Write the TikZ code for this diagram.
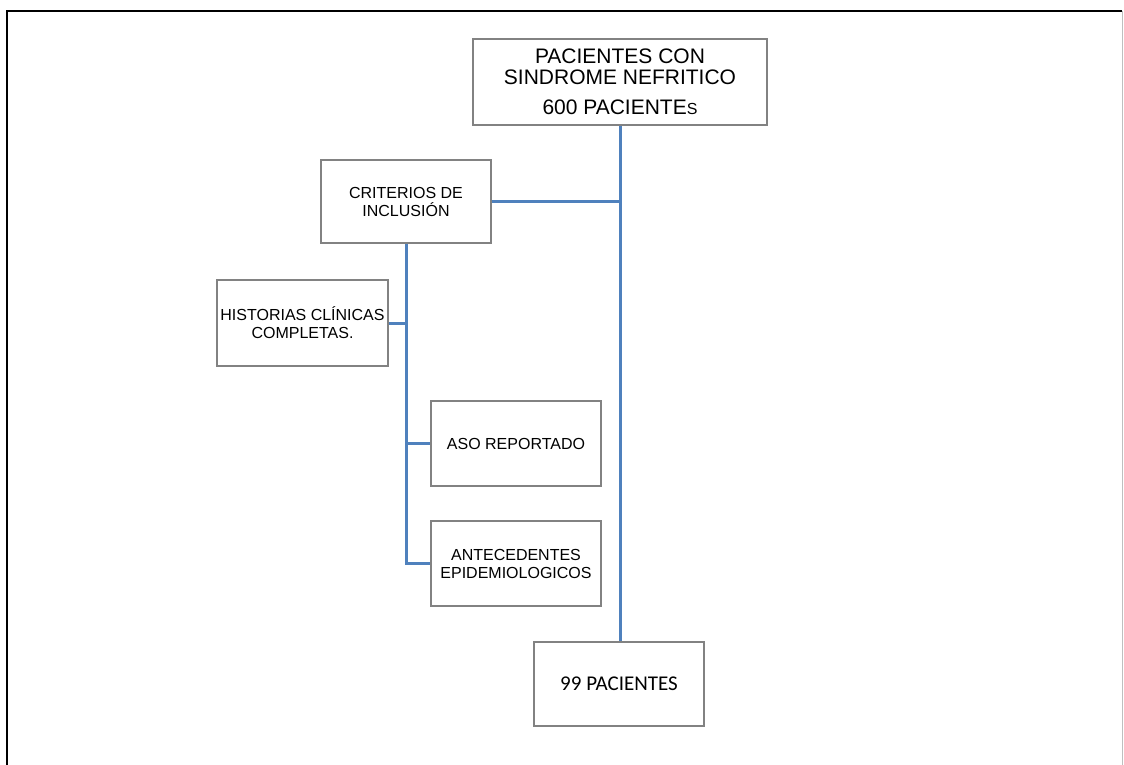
\documentclass[tikz,border=0pt]{standalone}
\usepackage{fontspec}
\setmainfont{Liberation Sans}
\newfontfamily\calib{Carlito}
\definecolor{conn}{RGB}{79,129,189}
\definecolor{boxgray}{RGB}{130,130,130}
\begin{document}
\begin{tikzpicture}[x=1pt,y=-1pt,
  box/.style={draw=boxgray,line width=1.2pt,fill=white,align=center,inner sep=0pt,
    minimum width=170pt,minimum height=85pt,font=\fontsize{16}{18}\selectfont},
  conline/.style={draw=conn,line width=3pt}]
\useasboundingbox (0,0) rectangle (1124,765);
% outer frame
\draw[line width=2.6pt,black] (7,765) -- (7,11) -- (1122,11);
\draw[line width=1.2pt,black!25] (1122.5,11) -- (1122.5,765);
% nodes
\node[box,minimum width=294pt,minimum height=86pt,font=\fontsize{21}{21}\selectfont] (top) at (620,82)
  {PACIENTES CON\\SINDROME NEFRITICO\\[9pt]600 PACIENTE{\fontsize{16}{16}\selectfont S}};
\node[box,minimum height=83pt] (crit) at (406,201.5) {CRITERIOS DE\\INCLUSIÓN};
\node[box,minimum width=171pt,minimum height=86pt] (hist) at (302.5,323) {HISTORIAS CLÍNICAS\\COMPLETAS.};
\node[box] (aso) at (516,443.5) {ASO REPORTADO};
\node[box] (ante) at (516,563.5) {ANTECEDENTES\\EPIDEMIOLOGICOS};
\node[box,minimum height=84pt,font=\calib\fontsize{21}{21}\selectfont] (res) at (619,684) {99 PACIENTES};
% connectors
\coordinate (j1) at (top.south |- crit.east);
\coordinate (j2) at (crit.south |- hist.east);
\coordinate (j3) at (crit.south |- aso.west);
\coordinate (j4) at (crit.south |- ante.west);
\draw[conline] (top.south) -- (top.south |- res.north);
\draw[conline] (crit.east) -- (j1);
\draw[conline] (crit.south) -- (j4) -- (ante.west);
\draw[conline] (j2) -- (hist.east);
\draw[conline] (j3) -- (aso.west);
\end{tikzpicture}
\end{document}
